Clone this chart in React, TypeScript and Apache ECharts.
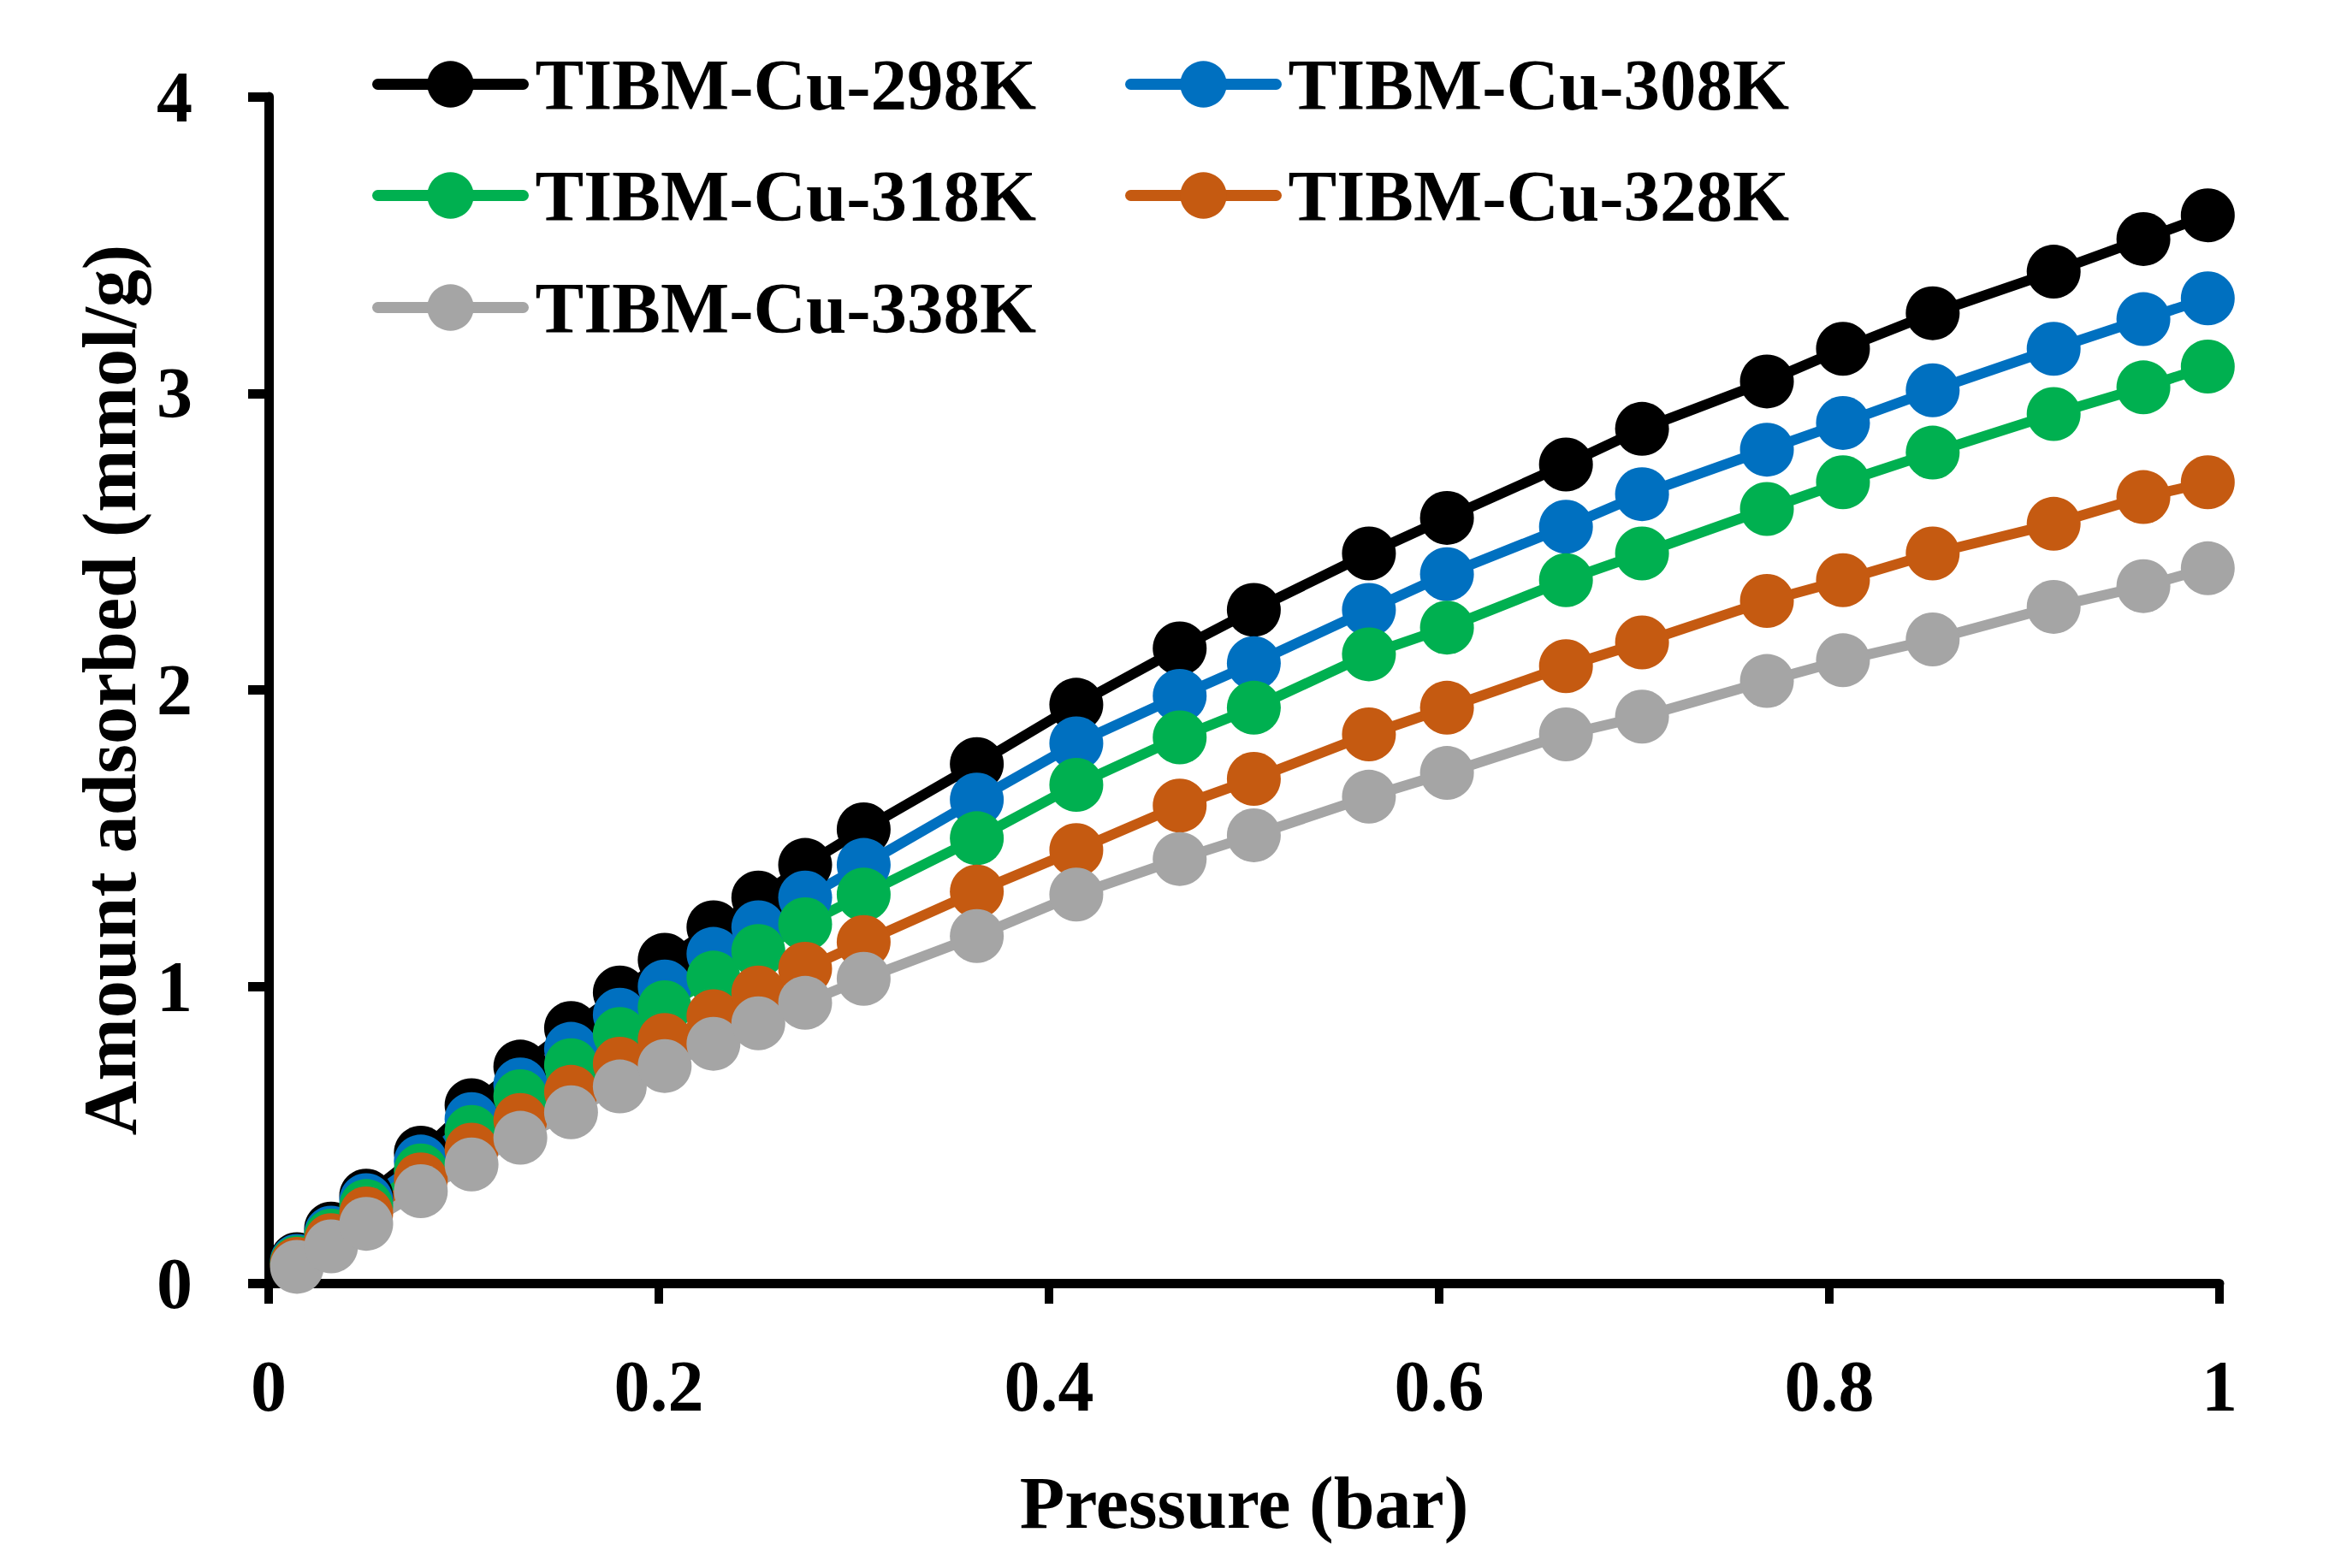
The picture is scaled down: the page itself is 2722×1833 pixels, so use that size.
import { useEffect, useRef } from 'react';
import * as echarts from 'echarts';

// pressure points (bar), shared by all five isotherms
const pressure = [
  0.0145, 0.032, 0.05, 0.078, 0.104, 0.129, 0.155, 0.18, 0.203, 0.228, 0.251, 0.275, 0.305,
  0.363, 0.414, 0.467, 0.505, 0.564, 0.604, 0.665, 0.704, 0.768, 0.807, 0.853, 0.915, 0.961, 0.994,
];

const k298 = [
  0.081, 0.184, 0.295, 0.44, 0.6, 0.73, 0.86, 0.98, 1.09, 1.2, 1.3, 1.41, 1.53,
  1.75, 1.95, 2.14, 2.27, 2.46, 2.58, 2.76, 2.88, 3.04, 3.15, 3.27, 3.41, 3.52, 3.6,
];
const k308 = [
  0.075, 0.17, 0.28, 0.41, 0.553, 0.67, 0.79, 0.905, 1.0, 1.11, 1.2, 1.3, 1.41,
  1.63, 1.82, 1.98, 2.09, 2.27, 2.39, 2.55, 2.66, 2.81, 2.9, 3.01, 3.15, 3.25, 3.32,
];
const k318 = [
  0.07, 0.16, 0.26, 0.38, 0.51, 0.63, 0.735, 0.84, 0.93, 1.03, 1.12, 1.21, 1.31,
  1.5, 1.68, 1.84, 1.94, 2.12, 2.21, 2.37, 2.46, 2.61, 2.7, 2.8, 2.93, 3.02, 3.09,
];
const k328 = [
  0.065, 0.145, 0.235, 0.35, 0.45, 0.55, 0.645, 0.74, 0.82, 0.9, 0.98, 1.06, 1.15,
  1.32, 1.46, 1.61, 1.7, 1.85, 1.94, 2.08, 2.16, 2.3, 2.37, 2.46, 2.56, 2.65, 2.7,
];
const k338 = [
  0.055, 0.124, 0.2, 0.31, 0.4, 0.49, 0.576, 0.663, 0.732, 0.807, 0.876, 0.945, 1.026,
  1.17, 1.31, 1.43, 1.51, 1.64, 1.72, 1.85, 1.91, 2.03, 2.1, 2.17, 2.28, 2.35, 2.41,
];

const names = ['TIBM-Cu-298K', 'TIBM-Cu-308K', 'TIBM-Cu-318K', 'TIBM-Cu-328K', 'TIBM-Cu-338K'];
const values = [k298, k308, k318, k328, k338];
const colors = ['#000000', '#0070C0', '#00B050', '#C55A11', '#A5A5A5'];

const FONT = 'Liberation Serif';

export default function App() {
  const chartRef = useRef<HTMLDivElement>(null);

  useEffect(() => {
    if (!chartRef.current) return;
    const chart = echarts.init(chartRef.current, undefined, { renderer: 'svg' });

    // legend slots: two columns, three rows
    const legendPos = [
      { left: 435, top: 56 },
      { left: 1315, top: 56 },
      { left: 435, top: 186 },
      { left: 1315, top: 186 },
      { left: 435, top: 317 },
    ];

    const option = {
      animation: false,
      backgroundColor: '#ffffff',
      grid: { left: 314, right: 128, top: 113, bottom: 333 },
      legend: names.map((name, i) => ({
        data: [name],
        left: legendPos[i].left,
        top: legendPos[i].top,
        padding: 0,
        itemWidth: 170,
        itemHeight: 68,
        selectedMode: false,
        lineStyle: { width: 13, cap: 'round' },
        textStyle: {
          fontFamily: FONT,
          fontWeight: 'bold',
          fontSize: 85,
          color: '#000',
          padding: [0, 0, 0, 9],
        },
      })),
      xAxis: {
        type: 'value',
        min: 0,
        max: 1,
        interval: 0.2,
        name: 'Pressure (bar)',
        nameLocation: 'middle',
        nameGap: 214,
        nameTextStyle: { fontFamily: FONT, fontWeight: 'bold', fontSize: 86, color: '#000' },
        axisLine: { show: true, lineStyle: { color: '#000', width: 11 } },
        axisTick: { show: true, length: 24, lineStyle: { color: '#000', width: 10 } },
        axisLabel: { margin: 78, fontFamily: FONT, fontWeight: 'bold', fontSize: 84, color: '#000' },
        splitLine: { show: false },
      },
      yAxis: {
        type: 'value',
        min: 0,
        max: 4,
        interval: 1,
        name: 'Amount adsorbed (mmol/g)',
        nameLocation: 'middle',
        nameGap: 124,
        nameTextStyle: { fontFamily: FONT, fontWeight: 'bold', fontSize: 88, color: '#000' },
        axisLine: { show: true, lineStyle: { color: '#000', width: 11 } },
        axisTick: { show: true, length: 24, lineStyle: { color: '#000', width: 11 } },
        axisLabel: { margin: 89, fontFamily: FONT, fontWeight: 'bold', fontSize: 84, color: '#000' },
        splitLine: { show: false },
      },
      series: names.map((name, i) => ({
        name,
        type: 'line',
        data: pressure.map((p, j) => [p, values[i][j]]),
        symbol: 'circle',
        symbolSize: 63,
        showSymbol: true,
        clip: false,
        lineStyle: { color: colors[i], width: 12, cap: 'round' },
        itemStyle: { color: colors[i] },
      })),
    };

    chart.setOption(option);

    return () => {
      chart.dispose();
    };
  }, []);

  return (
    <div
      ref={chartRef}
      style={{ position: 'absolute', left: 0, top: 0, width: 2722, height: 1833 }}
    />
  );
}
